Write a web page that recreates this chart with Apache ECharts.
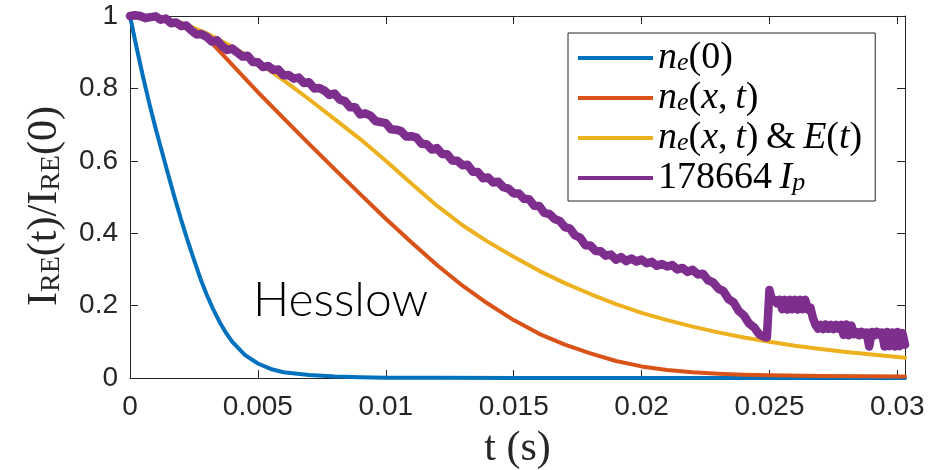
<!DOCTYPE html>
<html>
<head>
<meta charset="utf-8">
<script src="https://cdn.jsdelivr.net/npm/echarts@6/dist/echarts.min.js"></script>
<style>
  html, body { margin: 0; padding: 0; background: #fff; }
  #chart { width: 947px; height: 470px; }
</style>
</head>
<body>
<div id="chart"></div>
<script>
// Runaway-electron current decay, normalised to its initial value.
// Model curves are [t (s), I_RE(t)/I_RE(0)] pairs.
const neZero = [
  [0, 1], [0.00025, 0.915], [0.0005, 0.835], [0.00075, 0.76], [0.001, 0.69],
  [0.00125, 0.625], [0.0015, 0.56], [0.00175, 0.497], [0.002, 0.437],
  [0.00225, 0.38], [0.0025, 0.327], [0.00275, 0.275], [0.003, 0.23],
  [0.00325, 0.19], [0.0035, 0.155], [0.00375, 0.125], [0.004, 0.1],
  [0.0045, 0.063], [0.005, 0.04], [0.0055, 0.025], [0.006, 0.016],
  [0.007, 0.008], [0.008, 0.004], [0.009, 0.002], [0.01, 0.001],
  [0.012, 0.0004], [0.015, 0.0001], [0.02, 0], [0.0303, 0]
];

const neXT = [
  [0, 1], [0.001, 0.997], [0.002, 0.98], [0.003, 0.94], [0.004, 0.865],
  [0.005, 0.79], [0.006, 0.718], [0.007, 0.647], [0.008, 0.577],
  [0.009, 0.508], [0.01, 0.44], [0.011, 0.375], [0.012, 0.312],
  [0.013, 0.255], [0.014, 0.205], [0.015, 0.16], [0.016, 0.122],
  [0.017, 0.092], [0.018, 0.068], [0.019, 0.047], [0.02, 0.032],
  [0.021, 0.022], [0.022, 0.016], [0.023, 0.012], [0.024, 0.009],
  [0.025, 0.0075], [0.027, 0.0055], [0.0303, 0.004]
];

const neXTandE = [
  [0, 1], [0.001, 0.997], [0.002, 0.982], [0.003, 0.952], [0.004, 0.915],
  [0.005, 0.872], [0.006, 0.823], [0.007, 0.77], [0.008, 0.715],
  [0.009, 0.66], [0.01, 0.6], [0.011, 0.537], [0.012, 0.476],
  [0.013, 0.422], [0.014, 0.376], [0.015, 0.335], [0.016, 0.296],
  [0.017, 0.262], [0.018, 0.232], [0.019, 0.204], [0.02, 0.18],
  [0.021, 0.16], [0.022, 0.142], [0.023, 0.126], [0.024, 0.112],
  [0.025, 0.1], [0.026, 0.089], [0.027, 0.08], [0.028, 0.072],
  [0.029, 0.065], [0.03, 0.058], [0.0303, 0.056]
];

// Measured plasma current of shot 178664, sampled every 0.2 ms up to 24.8 ms ...
const ipMainStart = 0;
const ipMainStep = 0.0002;
const ipMain = [
  1.000, 1.002, 1.000, 0.994, 0.997,
  0.999, 0.990, 0.993, 0.980, 0.982,
  0.972, 0.974, 0.960, 0.949, 0.950,
  0.942, 0.929, 0.933, 0.917, 0.906,
  0.910, 0.899, 0.888, 0.890, 0.873,
  0.872, 0.859, 0.862, 0.851, 0.852,
  0.836, 0.837, 0.827, 0.830, 0.815,
  0.817, 0.800, 0.801, 0.794, 0.782,
  0.786, 0.769, 0.765, 0.748, 0.748,
  0.728, 0.731, 0.725, 0.710, 0.707,
  0.704, 0.687, 0.686, 0.682, 0.667,
  0.668, 0.664, 0.647, 0.646, 0.631,
  0.635, 0.619, 0.618, 0.601, 0.600,
  0.588, 0.589, 0.570, 0.569, 0.552,
  0.554, 0.540, 0.542, 0.527, 0.523,
  0.510, 0.510, 0.495, 0.494, 0.476,
  0.475, 0.456, 0.453, 0.439, 0.434,
  0.417, 0.413, 0.394, 0.388, 0.367,
  0.366, 0.351, 0.350, 0.338, 0.341,
  0.327, 0.334, 0.323, 0.330, 0.322,
  0.327, 0.317, 0.321, 0.310, 0.315,
  0.308, 0.312, 0.300, 0.304, 0.293,
  0.299, 0.286, 0.288, 0.270, 0.264,
  0.247, 0.240, 0.218, 0.209, 0.185,
  0.173, 0.151, 0.140, 0.121, 0.113
];
// ... then every 0.1 ms from 24.9 ms, where the digitised signal steps between levels.
const ipTailStart = 0.0249;
const ipTailStep = 0.0001;
const ipTail = [
  0.112, 0.243, 0.214, 0.216, 0.206, 0.216, 0.190, 0.216, 0.189, 0.216,
  0.190, 0.216, 0.189, 0.216, 0.190, 0.216, 0.189, 0.195, 0.166, 0.147,
  0.136, 0.147, 0.135, 0.148, 0.136, 0.147, 0.135, 0.147, 0.136, 0.147,
  0.119, 0.148, 0.118, 0.145, 0.121, 0.127, 0.118, 0.128, 0.119, 0.126,
  0.087, 0.127, 0.118, 0.128, 0.119, 0.126, 0.087, 0.127, 0.088, 0.126,
  0.087, 0.127, 0.088, 0.124, 0.092
];

const xTicks = [0, 0.005, 0.01, 0.015, 0.02, 0.025, 0.03];
const xTickLabels = ['0', '0.005', '0.01', '0.015', '0.02', '0.025', '0.03'];
const yTicks = [0, 0.2, 0.4, 0.6, 0.8, 1];
const yTickLabels = ['0', '0.2', '0.4', '0.6', '0.8', '1'];

const seriesNames = ['n_e(0)', 'n_e(x,t)', 'n_e(x,t) & E(t)', '178664 I_p'];
const seriesColors = ['#0072BD', '#D95319', '#EDB120', '#7E2F8E'];

const ipData = [];
ipMain.forEach((v, i) => ipData.push([ipMainStart + i * ipMainStep, v]));
ipTail.forEach((v, i) => ipData.push([ipTailStart + i * ipTailStep, v]));

const AXIS = '#262626';
const SERIF = '"Liberation Serif", "Times New Roman", serif';
const SANS = '"Liberation Sans", Arial, Helvetica, sans-serif';

function tickLabel(v, ticks, labels) {
  for (let i = 0; i < ticks.length; i++) {
    if (Math.abs(ticks[i] - v) < 1e-9) return labels[i];
  }
  return '';
}

// Math-style rich text for the legend and the axis names
const legendRich = {
  rm: { fontFamily: SERIF, fontSize: 38, lineHeight: 36, color: '#000' },
  it: { fontFamily: SERIF, fontStyle: 'italic', fontSize: 38, lineHeight: 36, color: '#000' },
  sub: { fontFamily: SERIF, fontStyle: 'italic', fontSize: 26, lineHeight: 16, verticalAlign: 'bottom', color: '#000' }
};
const legendText = {
  'n_e(0)': '{it|n}{sub|e}{rm|(0)}',
  'n_e(x,t)': '{it|n}{sub|e}{rm|(}{it|x}{rm|,\u2009}{it|t}{rm|)}',
  'n_e(x,t) & E(t)': '{it|n}{sub|e}{rm|(}{it|x}{rm|,\u2009}{it|t}{rm|)\u2009&\u2009}{it|E}{rm|(}{it|t}{rm|)}',
  '178664 I_p': '{rm|178664\u2009}{it|I}{sub|p}'
};

const nameRich = {
  rm: { fontFamily: SERIF, fontSize: 42, lineHeight: 42, color: AXIS },
  sub: { fontFamily: SERIF, fontSize: 28, lineHeight: 18, verticalAlign: 'bottom', color: AXIS }
};

function boxAxis(pos, isX, withLabels) {
  const ticks = isX ? xTicks : yTicks;
  const ax = {
    type: 'value',
    position: pos,
    min: 0,
    max: isX ? 0.0303 : 1,
    interval: isX ? 0.005 : 0.2,
    axisLine: { show: true, onZero: false, lineStyle: { color: AXIS, width: 1 } },
    axisTick: { show: true, inside: true, length: 8, customValues: ticks, lineStyle: { color: AXIS, width: 1 } },
    splitLine: { show: false },
    axisLabel: { show: false }
  };
  if (withLabels) {
    ax.axisLabel = {
      show: true,
      customValues: ticks,
      color: AXIS,
      fontFamily: SANS,
      fontSize: 28,
      margin: isX ? 15 : 12,
      formatter: v => isX ? tickLabel(v, xTicks, xTickLabels) : tickLabel(v, yTicks, yTickLabels)
    };
  }
  return ax;
}

const xBottom = boxAxis('bottom', true, true);
xBottom.name = '{rm|t (s)}';
xBottom.nameLocation = 'middle';
xBottom.nameGap = 50;
xBottom.nameTextStyle = { rich: nameRich };

const yLeft = boxAxis('left', false, true);
yLeft.name = '{rm|I}{sub|RE}{rm|(t)/I}{sub|RE}{rm|(0)}';
yLeft.nameLocation = 'middle';
yLeft.nameRotate = 90;
yLeft.nameGap = 64;
yLeft.nameTextStyle = { rich: nameRich, padding: [0, 18, 0, 0] };

function lineSeries(idx, data, width) {
  return {
    name: seriesNames[idx],
    type: 'line',
    data: data,
    xAxisIndex: 0,
    yAxisIndex: 0,
    symbol: 'none',
    showSymbol: false,
    smooth: false,
    clip: false,
    z: 2 + idx,
    itemStyle: { color: seriesColors[idx] },
    lineStyle: { color: seriesColors[idx], width: width, cap: 'round', join: 'round' },
    emphasis: { disabled: true }
  };
}

const chart = echarts.init(document.getElementById('chart'), null, { renderer: 'canvas' });
chart.setOption({
  animation: false,
  backgroundColor: '#fff',
  grid: { left: 130, top: 16, right: 42, bottom: 92, containLabel: false, outerBoundsMode: 'none' },
  xAxis: [xBottom, boxAxis('top', true, false)],
  yAxis: [yLeft, boxAxis('right', false, false)],
  legend: {
    orient: 'vertical',
    left: 568,
    top: 33,
    padding: [6, 13, 4, 10],
    itemGap: 2,
    itemWidth: 75,
    itemHeight: 4,
    icon: 'rect',
    selectedMode: false,
    backgroundColor: '#fff',
    borderColor: AXIS,
    borderWidth: 1,
    data: seriesNames,
    formatter: name => legendText[name],
    textStyle: { rich: legendRich }
  },
  graphic: [{
    type: 'text',
    x: 253,
    y: 301,
    z: 10,
    style: {
      text: 'Hesslow',
      fontFamily: 'Lato, "Open Sans", sans-serif',
      fontWeight: 300,
      fontSize: 48,
      fill: '#000',
      align: 'left',
      verticalAlign: 'middle'
    }
  }],
  series: [
    lineSeries(0, neZero, 4),
    lineSeries(1, neXT, 4),
    lineSeries(2, neXTandE, 4),
    lineSeries(3, ipData, 8.5)
  ]
});
</script>
</body>
</html>
